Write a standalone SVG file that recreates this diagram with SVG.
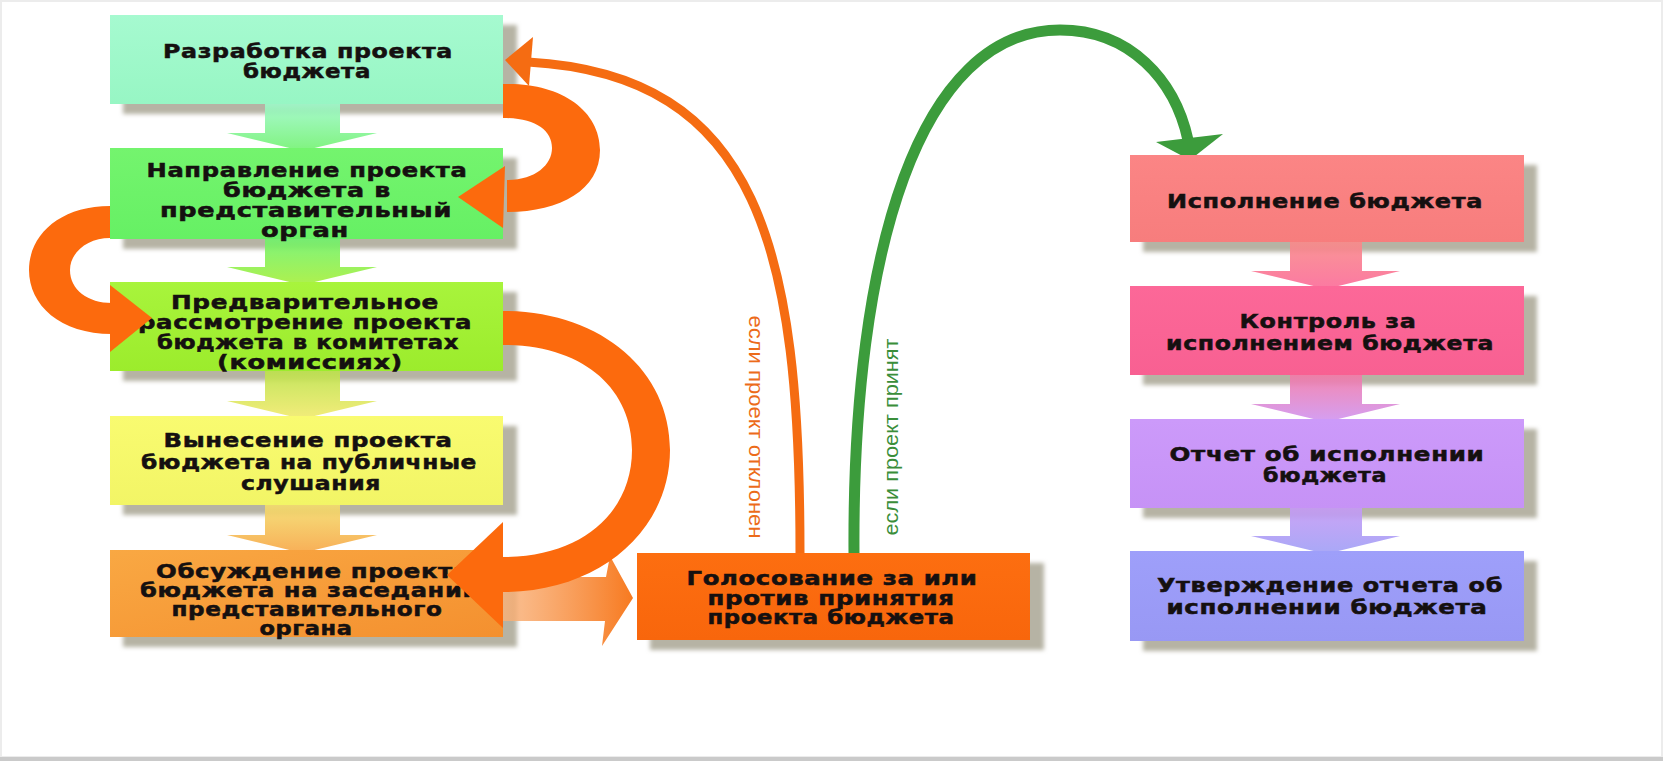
<svg xmlns="http://www.w3.org/2000/svg" width="1663" height="761" viewBox="0 0 1663 761">
<defs>
<style>
.box text{font-family:'DejaVu Sans','Liberation Sans',sans-serif;font-weight:bold;font-size:19px;letter-spacing:0.5px;fill:#151010;stroke:#151010;stroke-width:0.5;text-anchor:middle}
.sh{fill:#b6b3a4;filter:url(#blur)}
.arc{fill:#fc6a0d}
.lbl{font-family:'Liberation Sans',Arial,sans-serif;font-size:21px;text-anchor:middle}
</style>
<filter id="blur" x="-10%" y="-10%" width="120%" height="130%"><feGaussianBlur stdDeviation="2.2"/></filter>
<linearGradient id="g1" x1="0" y1="0" x2="0" y2="1"><stop offset="0" stop-color="#a6fad0"/><stop offset="1" stop-color="#97f6c4"/></linearGradient>
<linearGradient id="g2" x1="0" y1="0" x2="0" y2="1"><stop offset="0" stop-color="#74f46e"/><stop offset="1" stop-color="#66f064"/></linearGradient>
<linearGradient id="g3" x1="0" y1="0" x2="0" y2="1"><stop offset="0" stop-color="#a8f43c"/><stop offset="1" stop-color="#9cec2c"/></linearGradient>
<linearGradient id="g4" x1="0" y1="0" x2="0" y2="1"><stop offset="0" stop-color="#f9fb70"/><stop offset="1" stop-color="#f2f566"/></linearGradient>
<linearGradient id="g5" x1="0" y1="0" x2="1" y2="1"><stop offset="0" stop-color="#f9a843"/><stop offset="1" stop-color="#f4902f"/></linearGradient>
<linearGradient id="g6" x1="0" y1="0" x2="0" y2="1"><stop offset="0" stop-color="#fd6e10"/><stop offset="1" stop-color="#f8660c"/></linearGradient>
<linearGradient id="gr1" x1="0" y1="0" x2="0" y2="1"><stop offset="0" stop-color="#fb8585"/><stop offset="1" stop-color="#f77d7d"/></linearGradient>
<linearGradient id="gr2" x1="0" y1="0" x2="0" y2="1"><stop offset="0" stop-color="#fc6898"/><stop offset="1" stop-color="#f86092"/></linearGradient>
<linearGradient id="gr3" x1="0" y1="0" x2="0" y2="1"><stop offset="0" stop-color="#cc9afa"/><stop offset="1" stop-color="#c692f6"/></linearGradient>
<linearGradient id="gr4" x1="0" y1="0" x2="0" y2="1"><stop offset="0" stop-color="#9e9ffa"/><stop offset="1" stop-color="#9898f4"/></linearGradient>
<linearGradient id="a1" x1="0" y1="0" x2="0" y2="1"><stop offset="0" stop-color="#9ef8c9"/><stop offset="1" stop-color="#72f270"/></linearGradient>
<linearGradient id="a2" x1="0" y1="0" x2="0" y2="1"><stop offset="0" stop-color="#70f26c"/><stop offset="1" stop-color="#a6ef3a"/></linearGradient>
<linearGradient id="a3" x1="0" y1="0" x2="0" y2="1"><stop offset="0" stop-color="#bde24c"/><stop offset="1" stop-color="#f2ea6c"/></linearGradient>
<linearGradient id="a4" x1="0" y1="0" x2="0" y2="1"><stop offset="0" stop-color="#f4dc6c"/><stop offset="1" stop-color="#f7a645"/></linearGradient>
<linearGradient id="b1" x1="0" y1="0" x2="0" y2="1"><stop offset="0" stop-color="#f98a8a"/><stop offset="1" stop-color="#fb6a98"/></linearGradient>
<linearGradient id="b2" x1="0" y1="0" x2="0" y2="1"><stop offset="0" stop-color="#f27aa8"/><stop offset="1" stop-color="#cf95f2"/></linearGradient>
<linearGradient id="b3" x1="0" y1="0" x2="0" y2="1"><stop offset="0" stop-color="#c59af5"/><stop offset="1" stop-color="#9f9ff6"/></linearGradient>
<linearGradient id="h1" x1="0" y1="0" x2="1" y2="0"><stop offset="0" stop-color="#f9b27a" stop-opacity="0.8"/><stop offset="1" stop-color="#f77a20"/></linearGradient>
</defs>
<rect width="1663" height="761" fill="#ffffff"/>
<rect x="1" y="1" width="1661" height="756" fill="none" stroke="#ececec" stroke-width="2"/>
<rect x="0" y="757" width="1663" height="4" fill="#cacaca"/>

<!-- shadows -->
<g id="shadows">
<rect class="sh" x="123" y="25" width="394" height="89"/>
<rect class="sh" x="123" y="158" width="394" height="91"/>
<rect class="sh" x="123" y="292" width="394" height="89"/>
<rect class="sh" x="123" y="426" width="394" height="89"/>
<rect class="sh" x="123" y="560" width="394" height="87"/>
<rect class="sh" x="650" y="563" width="394" height="87"/>
<rect class="sh" x="1143" y="165" width="394" height="87"/>
<rect class="sh" x="1143" y="296" width="394" height="89"/>
<rect class="sh" x="1143" y="429" width="394" height="89"/>
<rect class="sh" x="1143" y="561" width="394" height="90"/>
</g>

<!-- connectors -->
<g id="connectors">
<path fill="url(#a1)" fill-opacity="0.9" d="M265 104 L340 104 L340 133 L377 133 L302 151 L227 133 L265 133 Z"/>
<path fill="url(#a2)" fill-opacity="0.9" d="M265 239 L340 239 L340 267 L377 267 L302 285 L227 267 L265 267 Z"/>
<path fill="url(#a3)" fill-opacity="0.9" d="M265 371 L340 371 L340 401 L377 401 L302 419 L227 401 L265 401 Z"/>
<path fill="url(#a4)" fill-opacity="0.9" d="M265 505 L340 505 L340 535 L377 535 L302 553 L227 535 L265 535 Z"/>
<path fill="url(#b1)" fill-opacity="0.9" d="M1290 242 L1362 242 L1362 271 L1400 271 L1326 289 L1251 271 L1290 271 Z"/>
<path fill="url(#b2)" fill-opacity="0.9" d="M1290 375 L1362 375 L1362 404 L1400 404 L1326 422 L1251 404 L1290 404 Z"/>
<path fill="url(#b3)" fill-opacity="0.9" d="M1290 508 L1362 508 L1362 536 L1400 536 L1326 554 L1251 536 L1290 536 Z"/>
<!-- box5 to voting -->
<path fill="url(#h1)" d="M503 577 L606 577 L610 556 L633 598 L602 646 L605 621 L503 621 Z"/>
<!-- rejected: back to development -->
<path fill="none" stroke="#f56c12" stroke-width="9" d="M800 553 C800 250 760 75 528 62"/>
<polygon fill="#f56c12" points="533,37 529,86 505,60"/>
<!-- accepted: to execution -->
<path fill="none" stroke="#3c9c3c" stroke-width="11" d="M854 553 C852 250 920 30 1060 30 C1130 30 1175 80 1188 140"/>
<polygon fill="#3c9c3c" points="1156,142 1223,134 1190,160"/>
</g>

<!-- nodes -->
<g id="n1" class="box"><rect x="110" y="15" width="393" height="89" fill="url(#g1)"/>
<text x="308" y="58" textLength="290" lengthAdjust="spacingAndGlyphs">Разработка проекта</text>
<text x="307" y="78" textLength="128" lengthAdjust="spacingAndGlyphs">бюджета</text></g>
<g id="n2" class="box"><rect x="110" y="148" width="393" height="91" fill="url(#g2)"/>
<text x="307" y="177" textLength="321" lengthAdjust="spacingAndGlyphs">Направление проекта</text>
<text x="307" y="197" textLength="168" lengthAdjust="spacingAndGlyphs">бюджета в</text>
<text x="306" y="217" textLength="292" lengthAdjust="spacingAndGlyphs">представительный</text>
<text x="305" y="237" textLength="88" lengthAdjust="spacingAndGlyphs">орган</text></g>
<g id="n3" class="box"><rect x="110" y="282" width="393" height="89" fill="url(#g3)"/>
<text x="305" y="309" textLength="268" lengthAdjust="spacingAndGlyphs">Предварительное</text>
<text x="305" y="329" textLength="334" lengthAdjust="spacingAndGlyphs">рассмотрение проекта</text>
<text x="308" y="349" textLength="302" lengthAdjust="spacingAndGlyphs">бюджета в комитетах</text>
<text x="310" y="369" textLength="186" lengthAdjust="spacingAndGlyphs">(комиссиях)</text></g>
<g id="n4" class="box"><rect x="110" y="416" width="393" height="89" fill="url(#g4)"/>
<text x="308" y="447" textLength="289" lengthAdjust="spacingAndGlyphs">Вынесение проекта</text>
<text x="309" y="469" textLength="336" lengthAdjust="spacingAndGlyphs">бюджета на публичные</text>
<text x="311" y="490" textLength="140" lengthAdjust="spacingAndGlyphs">слушания</text></g>
<g id="n5" class="box"><rect x="110" y="550" width="393" height="87" fill="url(#g5)"/>
<text x="313" y="578" textLength="314" lengthAdjust="spacingAndGlyphs">Обсуждение проекта</text>
<text x="310" y="597" textLength="340" lengthAdjust="spacingAndGlyphs">бюджета на заседании</text>
<text x="307" y="616" textLength="271" lengthAdjust="spacingAndGlyphs">представительного</text>
<text x="306" y="635" textLength="93" lengthAdjust="spacingAndGlyphs">органа</text></g>
<g id="n6" class="box"><rect x="637" y="553" width="393" height="87" fill="url(#g6)"/>
<text x="832" y="585" textLength="291" lengthAdjust="spacingAndGlyphs">Голосование за или</text>
<text x="831" y="605" textLength="247" lengthAdjust="spacingAndGlyphs">против принятия</text>
<text x="831" y="624" textLength="247" lengthAdjust="spacingAndGlyphs">проекта бюджета</text></g>
<g id="n7" class="box"><rect x="1130" y="155" width="394" height="87" fill="url(#gr1)"/>
<text x="1325" y="208" textLength="316" lengthAdjust="spacingAndGlyphs">Исполнение бюджета</text></g>
<g id="n8" class="box"><rect x="1130" y="286" width="394" height="89" fill="url(#gr2)"/>
<text x="1328" y="328" textLength="177" lengthAdjust="spacingAndGlyphs">Контроль за</text>
<text x="1330" y="350" textLength="328" lengthAdjust="spacingAndGlyphs">исполнением бюджета</text></g>
<g id="n9" class="box"><rect x="1130" y="419" width="394" height="89" fill="url(#gr3)"/>
<text x="1327" y="461" textLength="315" lengthAdjust="spacingAndGlyphs">Отчет об исполнении</text>
<text x="1325" y="482" textLength="124" lengthAdjust="spacingAndGlyphs">бюджета</text></g>
<g id="n10" class="box"><rect x="1130" y="551" width="394" height="90" fill="url(#gr4)"/>
<text x="1330" y="592" textLength="346" lengthAdjust="spacingAndGlyphs">Утверждение отчета об</text>
<text x="1327" y="614" textLength="321" lengthAdjust="spacingAndGlyphs">исполнении бюджета</text></g>

<!-- thick orange curved arrows (drawn over boxes) -->
<g id="loops">
<path class="arc" d="M503 84 C560 82 600 110 600 150 C600 190 560 212 507 212 L507 180 C535 180 552 165 552 148 C552 130 535 118 503 118 Z"/>
<polygon class="arc" points="505,166 503,228 458,197"/>
<path class="arc" d="M110 206 C60 206 29 235 29 270 C29 305 60 334 112 334 L112 303 C88 303 70 290 70 270 C70 252 88 238 110 238 Z"/>
<polygon class="arc" points="110,285 110,352 152,318"/>
<path class="arc" d="M503 311 C600 311 670 370 670 450 C670 530 600 592 503 592 L503 557 C585 557 632 510 632 450 C632 390 585 345 503 345 Z"/>
<polygon class="arc" points="503,522 447,575 503,628"/>
</g>

<!-- labels -->
<g id="labels">
<text class="lbl" fill="#ec6b1a" transform="translate(749 427) rotate(90)" x="0" y="0" textLength="223" lengthAdjust="spacingAndGlyphs">если проект отклонен</text>
<text class="lbl" fill="#3a8e3a" transform="translate(898 437) rotate(-90)" x="0" y="0" textLength="197" lengthAdjust="spacingAndGlyphs">если проект принят</text>
</g>
</svg>
